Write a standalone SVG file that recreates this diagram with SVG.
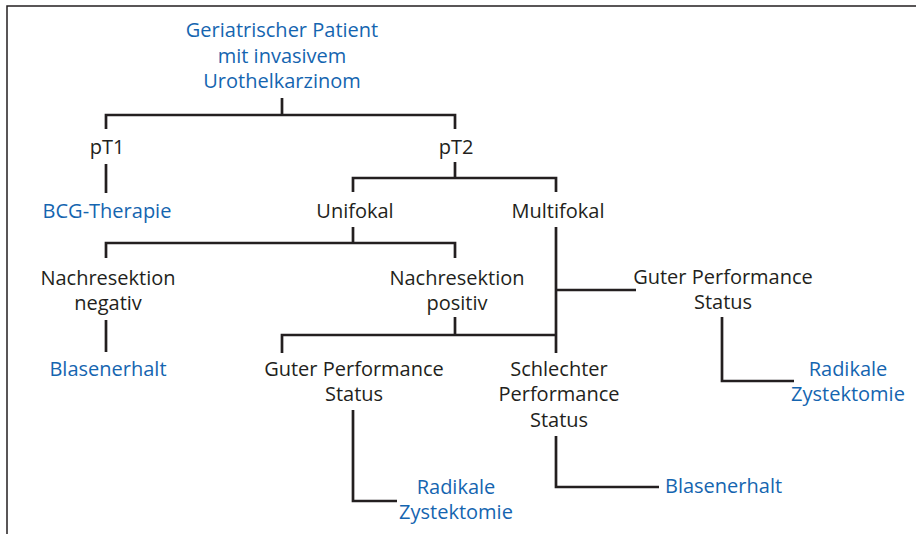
<svg xmlns="http://www.w3.org/2000/svg" width="916" height="534" viewBox="0 0 916 534">
<style>
text{font-family:"Open Sans","Noto Sans","Liberation Sans",sans-serif;font-size:20px;fill:#231f20;text-anchor:middle}
.b{fill:#1565b0}
.s{text-anchor:start}
.c{fill:none;stroke:#231f20;stroke-width:2.7;stroke-linecap:butt}
</style>
<rect width="916" height="534" fill="#fff"/>
<path d="M7,534 V6 H916" fill="none" stroke="#231f20" stroke-width="1.5"/>
<g id="connectors" class="c">
<path class="c" d="M282,98 V115 M106,129 V115 H455 V129"/>
<path class="c" d="M106,164 V193"/>
<path class="c" d="M455,162 V178 M353,192 V178 H556 V192"/>
<path class="c" d="M353,227 V243 M106,258 V243 H455 V258"/>
<path class="c" d="M556,227 V353 M556,290 H636 M282,353 V335 H556 M455,317 V335"/>
<path class="c" d="M106,320 V352"/>
<path class="c" d="M353,410 V501 H397"/>
<path class="c" d="M722,317 V381 H794"/>
<path class="c" d="M556,436 V487 H659"/>
</g>
<g id="root"><text class="b" x="282" y="37">Geriatrischer Patient</text><text class="b" x="282" y="63">mit invasivem</text><text class="b" x="282" y="88">Urothelkarzinom</text></g>
<g id="pT1"><text x="107" y="154">pT1</text></g>
<g id="pT2"><text x="456" y="154">pT2</text></g>
<g id="bcg"><text class="b" x="107" y="218">BCG-Therapie</text></g>
<g id="unifokal"><text x="355" y="218">Unifokal</text></g>
<g id="multifokal"><text x="558" y="218">Multifokal</text></g>
<g id="nr-neg"><text x="108" y="285">Nachresektion</text><text x="108" y="310">negativ</text></g>
<g id="nr-pos"><text x="457" y="285">Nachresektion</text><text x="457" y="310">positiv</text></g>
<g id="blasen1"><text class="b" x="108" y="376">Blasenerhalt</text></g>
<g id="guter1"><text x="354" y="376">Guter Performance</text><text x="354" y="401">Status</text></g>
<g id="schlecht"><text x="559" y="376">Schlechter</text><text x="559" y="401">Performance</text><text x="559" y="427">Status</text></g>
<g id="guter2"><text x="723" y="284">Guter Performance</text><text x="723" y="309">Status</text></g>
<g id="rz1"><text class="b" x="456" y="494">Radikale</text><text class="b" x="456" y="519">Zystektomie</text></g>
<g id="rz2"><text class="b" x="848" y="376">Radikale</text><text class="b" x="848" y="401">Zystektomie</text></g>
<g id="blasen2"><text class="b s" x="665" y="493">Blasenerhalt</text></g>
</svg>
